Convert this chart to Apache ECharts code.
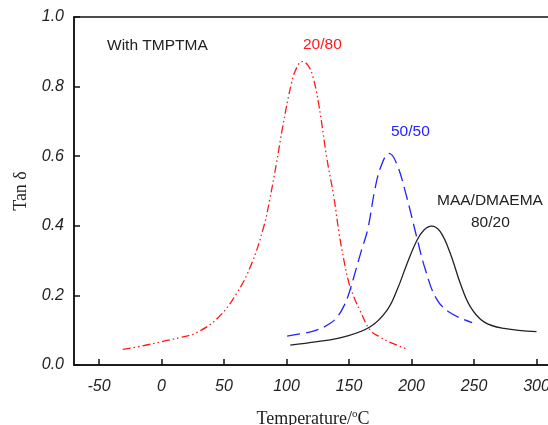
<!DOCTYPE html>
<html>
<head>
<meta charset="utf-8">
<script src="https://cdn.jsdelivr.net/npm/echarts@6/dist/echarts.min.js"></script>
<style>
  html, body { margin: 0; padding: 0; background: #fff; }
  #tand { width: 548px; height: 425px; }
</style>
</head>
<body>
<div id="tand"></div>
<script>
// tan delta vs temperature, MAA/DMAEMA with TMPTMA
var xTicks = [-50, 0, 50, 100, 150, 200, 250, 300];

var red2080 = [
  [-31, 0.045], [-15, 0.055], [0, 0.067], [15, 0.079], [28, 0.093], [45, 0.135],
  [60, 0.205], [72, 0.29], [82, 0.40], [86.5, 0.474], [92, 0.58], [97, 0.685],
  [104, 0.81], [108, 0.853], [112.5, 0.872], [117, 0.862], [121, 0.83], [126, 0.745],
  [132, 0.60], [138, 0.48], [142, 0.38], [146, 0.30], [150, 0.235], [154, 0.195],
  [159, 0.155], [167, 0.10], [175, 0.08], [183, 0.065], [197, 0.045]
];
var blue5050 = [
  [100.5, 0.083], [112, 0.09], [124, 0.10], [135, 0.12], [141, 0.14], [146, 0.17],
  [150, 0.206], [156, 0.28], [160, 0.33], [165, 0.39], [171, 0.51], [176, 0.575],
  [182, 0.608], [188, 0.58], [196, 0.485], [204, 0.37], [211, 0.275], [220, 0.19],
  [231, 0.15], [248.5, 0.122]
];
var black8020 = [
  [103, 0.057], [124.5, 0.067], [146, 0.081], [167, 0.11], [180.5, 0.158],
  [188.5, 0.216], [196.5, 0.292], [204.5, 0.359], [210, 0.388], [216, 0.399],
  [223, 0.383], [231, 0.321], [239, 0.235], [247, 0.168], [258, 0.124],
  [274, 0.105], [300, 0.096]
];

var chart = echarts.init(document.getElementById('tand'));

var tickFont = { fontFamily: 'Liberation Sans', fontStyle: 'italic', fontSize: 16, color: '#222' };
var noteFont = 'Liberation Sans';

var option = {
  animation: false,
  grid: {
    left: 74, right: -4, top: 17, bottom: 60,
    outerBoundsMode: 'none',
    containLabel: false,
    show: true, borderColor: '#111', borderWidth: 1.5, backgroundColor: 'transparent'
  },
  xAxis: {
    type: 'value',
    min: -70, max: 312.4,
    name: 'Temperature/{sup|o}C',
    nameLocation: 'middle',
    nameGap: 44,
    nameTextStyle: {
      fontFamily: 'Liberation Serif', fontSize: 18, color: '#222',
      rich: { sup: { fontFamily: 'Liberation Serif', fontSize: 11, verticalAlign: 'top', padding: [0, 0, 10, 0], color: '#222' } }
    },
    axisLine: { show: true, onZero: false, lineStyle: { color: '#111', width: 1.5 } },
    axisTick: { show: true, inside: true, length: 6, customValues: xTicks, lineStyle: { color: '#111', width: 1.5 } },
    axisLabel: Object.assign({ margin: 14, customValues: xTicks }, tickFont),
    splitLine: { show: false }
  },
  yAxis: {
    type: 'value',
    min: 0, max: 1, interval: 0.2,
    name: 'Tan δ',
    nameLocation: 'middle',
    nameGap: 44,
    nameTextStyle: { fontFamily: 'Liberation Serif', fontSize: 18, color: '#222' },
    axisLine: { show: true, onZero: false, lineStyle: { color: '#111', width: 1.5 } },
    axisTick: { show: true, inside: true, length: 6, lineStyle: { color: '#111', width: 1.5 } },
    axisLabel: Object.assign({ margin: 10, formatter: function (v) { return v.toFixed(1); } }, tickFont),
    splitLine: { show: false }
  },
  series: [
    {
      name: '20/80', type: 'line', data: red2080, smooth: 0.4, showSymbol: false,
      lineStyle: { color: '#ff1a1a', width: 1.3, type: [8, 3, 1.5, 3, 1.5, 3] }
    },
    {
      name: '50/50', type: 'line', data: blue5050, smooth: 0.4, showSymbol: false,
      lineStyle: { color: '#2222ff', width: 1.3, type: [13, 6] }
    },
    {
      name: '80/20', type: 'line', data: black8020, smooth: 0.4, showSymbol: false,
      lineStyle: { color: '#222', width: 1.3 }
    }
  ],
  graphic: [
    { type: 'text', left: 107, top: 38, style: { text: 'With TMPTMA', font: '15.5px ' + noteFont, fill: '#222' } },
    { type: 'text', left: 303, top: 37, style: { text: '20/80', font: '15.5px ' + noteFont, fill: '#ff1a1a' } },
    { type: 'text', left: 391, top: 124, style: { text: '50/50', font: '15.5px ' + noteFont, fill: '#2222ff' } },
    { type: 'text', left: 437, top: 193, style: { text: 'MAA/DMAEMA', font: '15.5px ' + noteFont, fill: '#222' } },
    { type: 'text', left: 471, top: 215, style: { text: '80/20', font: '15.5px ' + noteFont, fill: '#222' } }
  ]
};

chart.setOption(option);
</script>
</body>
</html>
